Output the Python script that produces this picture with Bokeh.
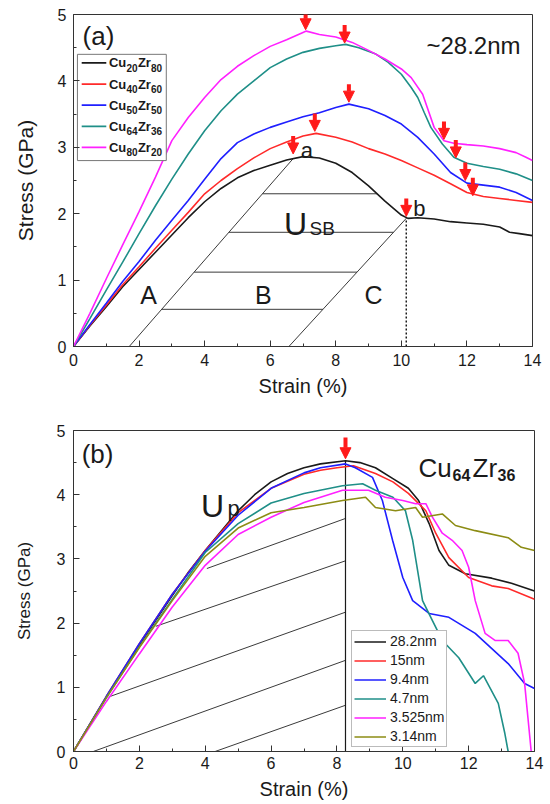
import numpy as np
from bokeh.plotting import figure
from bokeh.layouts import column
from bokeh.core.properties import value
from bokeh.models import (Range1d, FixedTicker, Legend, LegendItem, Label,
                          Arrow, NormalHead, ColumnDataSource)
from bokeh.embed import file_html
from bokeh.resources import INLINE

FONT = "Liberation Sans"
RED = "#ff1a1a"

# ---------------- panel (a) data: ~28.2 nm, different compositions ----------------
a_cu = ["20", "40", "50", "64", "80"]
a_zr = ["80", "60", "50", "36", "20"]
a_colors = ["#1a1a1a", "#ff2a2a", "#1f1fff", "#1f8f88", "#ff20ff"]

cu20_strain = [0, 0.5, 1, 1.5, 2, 2.5, 3, 3.5, 4, 4.5, 5, 5.5, 6, 6.5, 7, 7.5, 8, 8.5, 9,
               9.5, 10, 10.2, 10.5, 11, 11.5, 12, 12.5, 13, 13.3, 13.6, 14]
cu20_stress = [0, 0.31, 0.6, 0.9, 1.16, 1.42, 1.68, 1.94, 2.18, 2.38, 2.54, 2.65, 2.73, 2.81,
               2.86, 2.84, 2.76, 2.62, 2.42, 2.19, 1.98, 1.93, 1.94, 1.92, 1.88, 1.86, 1.84,
               1.8, 1.72, 1.7, 1.67]

cu40_strain = [0, 0.5, 1, 1.5, 2, 2.5, 3, 3.5, 4, 4.5, 5, 5.5, 6, 6.5, 7, 7.4, 8, 8.5, 9,
               9.5, 10, 10.5, 11, 11.5, 12, 12.5, 13, 13.5, 14]
cu40_stress = [0, 0.32, 0.62, 0.93, 1.2, 1.48, 1.75, 2.02, 2.3, 2.5, 2.68, 2.84, 2.98, 3.08,
               3.17, 3.21, 3.15, 3.08, 2.98, 2.9, 2.8, 2.69, 2.58, 2.45, 2.32, 2.26, 2.23,
               2.2, 2.17]

cu50_strain = [0, 0.5, 1, 1.5, 2, 2.5, 3, 3.5, 4, 4.5, 5, 5.5, 6, 6.5, 7, 7.5, 8, 8.4, 9,
               9.5, 10, 10.5, 11, 11.5, 12, 12.5, 13, 13.5, 14]
cu50_stress = [0, 0.33, 0.65, 0.98, 1.28, 1.6, 1.9, 2.2, 2.52, 2.83, 3.07, 3.2, 3.3, 3.38,
               3.46, 3.52, 3.6, 3.65, 3.58, 3.48, 3.35, 3.15, 2.9, 2.62, 2.46, 2.43, 2.4,
               2.32, 2.2]

cu64_strain = [0, 0.5, 1, 1.5, 2, 2.5, 3, 3.5, 4, 4.5, 5, 5.5, 6, 6.5, 7, 7.5, 8, 8.3, 8.7,
               9.2, 9.6, 10, 10.3, 10.5, 10.7, 10.9, 11.25, 11.6, 12, 12.5, 13, 13.5, 14]
cu64_stress = [0, 0.42, 0.85, 1.27, 1.7, 2.12, 2.52, 2.9, 3.25, 3.55, 3.8, 4.0, 4.2, 4.33,
               4.43, 4.49, 4.53, 4.55, 4.5, 4.41, 4.28, 4.1, 3.9, 3.75, 3.52, 3.3, 3.05,
               2.85, 2.76, 2.71, 2.67, 2.6, 2.5]

cu80_strain = [0, 0.5, 1, 1.5, 2, 2.5, 3, 3.5, 4, 4.5, 5, 5.5, 6, 6.5, 7, 7.1, 7.5, 8, 8.5,
               9, 9.5, 10, 10.3, 10.65, 11, 11.3, 11.6, 12, 12.5, 13, 13.5, 13.8, 14]
cu80_stress = [0, 0.5, 1.02, 1.53, 2.03, 2.55, 3.1, 3.45, 3.75, 4.02, 4.22, 4.38, 4.52, 4.62,
               4.73, 4.75, 4.7, 4.66, 4.58, 4.46, 4.33, 4.18, 4.05, 3.8, 3.3, 3.1, 3.06,
               3.04, 3.02, 2.98, 2.92, 2.85, 2.8]

a_strains = [cu20_strain, cu40_strain, cu50_strain, cu64_strain, cu80_strain]
a_stresses = [cu20_stress, cu40_stress, cu50_stress, cu64_stress, cu80_stress]

# arrows (tip positions) in panel (a)
a_arrow_x = [6.7, 7.36, 8.4, 8.27, 7.08, 10.15, 11.3, 11.66, 11.95, 12.18]
a_arrow_y = [2.9, 3.24, 3.68, 4.57, 4.77, 1.96, 3.12, 2.84, 2.5, 2.27]
a_arrow_len = 0.27

# construction in panel (a): two parallel unloading lines, point a and point b
left_line_x = [1.7, 6.7]
left_line_y = [0.0, 2.83]
right_line_x = [6.57, 10.15]
right_line_y = [0.0, 1.93]
b_x, b_y = 10.15, 1.93
hatch_y = [0.56, 1.12, 1.72, 2.3]

# ---------------- panel (b) data: Cu64Zr36, different sizes ----------------
b_labels = ["28.2nm", "15nm", "9.4nm", "4.7nm", "3.525nm", "3.14nm"]
b_colors = ["#1a1a1a", "#ff2a2a", "#1f1fff", "#1f8f88", "#ff20ff", "#8c8c14"]

s282_strain = [0, 1, 2, 3, 3.5, 4, 5, 5.5, 6, 6.5, 7, 7.5, 8.26, 8.7, 9.17, 9.7, 10.17,
               10.48, 10.8, 11.1, 11.4, 11.9, 12.7, 13.3, 14]
s282_stress = [0, 0.85, 1.66, 2.43, 2.8, 3.13, 3.75, 4.0, 4.2, 4.33, 4.42, 4.48, 4.53, 4.5,
               4.42, 4.25, 4.1, 3.91, 3.55, 3.13, 2.9, 2.77, 2.7, 2.62, 2.5]

s15_strain = [0, 1, 2, 3, 4, 5, 6, 7, 7.5, 8, 8.5, 9.17, 9.7, 10.17, 10.7, 11, 11.4, 12,
              12.7, 13.2, 14]
s15_stress = [0, 0.86, 1.68, 2.45, 3.13, 3.72, 4.1, 4.32, 4.38, 4.42, 4.45, 4.33, 4.2, 4.02,
              3.75, 3.4, 3.02, 2.71, 2.58, 2.54, 2.37]

s94_strain = [0, 1, 2, 3, 4, 5, 6, 7, 7.5, 8.26, 8.56, 9.08, 9.38, 9.69, 10.0, 10.3, 10.8,
              11.4, 12.2, 13.2, 13.7, 14]
s94_stress = [0, 0.86, 1.68, 2.45, 3.12, 3.68, 4.1, 4.34, 4.42, 4.48, 4.42, 4.27, 3.91, 3.29,
              2.71, 2.35, 2.15, 2.09, 1.84, 1.37, 1.06, 0.98]

s47_strain = [0, 1, 2, 3, 4, 5, 6, 7, 8.17, 8.78, 9.17, 9.7, 10.08, 10.3, 10.6, 10.9, 11.2,
              11.7, 12.2, 12.45, 12.9, 13.1, 13.2]
s47_stress = [0, 0.84, 1.63, 2.37, 3.1, 3.55, 3.87, 4.02, 4.14, 4.17, 4.07, 3.96, 3.75, 3.29,
              2.35, 2.04, 1.73, 1.46, 1.06, 1.18, 0.75, 0.28, 0]

s3525_strain = [0, 1, 2, 3, 4, 5, 6, 7, 8.17, 8.96, 9.47, 10.0, 10.39, 10.7, 10.9, 11.2,
                11.5, 11.8, 12.0, 12.2, 12.5, 12.8, 13.2, 13.5, 13.7, 13.8, 13.9]
s3525_stress = [0, 0.78, 1.52, 2.25, 2.9, 3.38, 3.65, 3.88, 4.07, 4.07, 3.96, 3.91, 3.86,
                3.86, 3.65, 3.4, 3.29, 3.13, 2.87, 2.35, 1.84, 1.73, 1.73, 1.53, 1.06, 0.53, 0]

s314_strain = [0, 1, 2, 3, 4, 5, 6, 7, 8.17, 8.87, 9.17, 9.78, 10.39, 10.6, 11.2, 11.6,
               12.2, 13.2, 13.6, 14]
s314_stress = [0, 0.84, 1.62, 2.35, 3.04, 3.48, 3.72, 3.8, 3.91, 3.96, 3.8, 3.75, 3.8, 3.65,
               3.7, 3.52, 3.44, 3.33, 3.18, 3.13]

b_strains = [s282_strain, s15_strain, s94_strain, s47_strain, s3525_strain, s314_strain]
b_stresses = [s282_stress, s15_stress, s94_stress, s47_stress, s3525_stress, s314_stress]

# construction in panel (b)
peak_x, peak_y = 8.26, 4.53
slant_x0 = [4.3, 0.6, 1.07, 2.5, 4.05]
slant_y0 = [0.0, 0.0, 0.85, 1.95, 2.85]
slant_y1 = [0.72, 1.42, 2.17, 2.97, 3.63]
b_arrow_x = [peak_x]
b_arrow_y = [4.56]
b_arrow_len = 0.33

x_ticks = [0, 2, 4, 6, 8, 10, 12, 14]
x_minor = [1, 3, 5, 7, 9, 11, 13]
y_ticks = [0, 1, 2, 3, 4, 5]
y_minor = [0.5, 1.5, 2.5, 3.5, 4.5]


def make_fig(fw, fh, bl, br, bt, bb, ylab_size):
    p = figure(frame_width=fw, frame_height=fh, x_range=Range1d(0, 14), y_range=Range1d(0, 5),
               output_backend="svg", toolbar_location=None,
               min_border_left=bl, min_border_right=br, min_border_top=bt, min_border_bottom=bb)
    p.xgrid.visible = False
    p.ygrid.visible = False
    p.outline_line_color = "#333333"
    p.outline_line_width = 1
    p.background_fill_color = "white"
    p.border_fill_color = "white"
    p.xaxis.ticker = FixedTicker(ticks=x_ticks, minor_ticks=x_minor)
    p.yaxis.ticker = FixedTicker(ticks=y_ticks, minor_ticks=y_minor)
    for ax in (p.xaxis[0], p.yaxis[0]):
        ax.axis_line_color = "#333333"
        ax.major_tick_line_color = "#333333"
        ax.minor_tick_line_color = "#333333"
        ax.major_tick_in = 6
        ax.major_tick_out = 0
        ax.minor_tick_in = 3
        ax.minor_tick_out = 0
        ax.major_label_text_font = FONT
        ax.major_label_text_font_size = "16px"
        ax.major_label_text_color = "#1a1a1a"
        ax.axis_label_text_font = FONT
        ax.axis_label_text_font_style = "normal"
        ax.axis_label_text_color = "#1a1a1a"
    p.xaxis.axis_label = "Strain (%)"
    p.xaxis.axis_label_text_font_size = "20px"
    p.yaxis.axis_label = "Stress (GPa)"
    p.yaxis.axis_label_text_font_size = ylab_size
    return p


def add_label(p, x, y, text, size, align="center", baseline="middle", style="normal"):
    p.add_layout(Label(x=x, y=y, text=text, text_font=FONT, text_font_size=size,
                       text_align=align, text_baseline=baseline, text_font_style=style,
                       text_color="#1a1a1a"))


# ======================= panel (a) =======================
p1 = make_fig(459, 332, 72, 12, 14, 56, "21px")
p1.xaxis.major_label_standoff = 7
p1.xaxis.axis_label_standoff = 6
p1.yaxis.major_label_standoff = 7
p1.yaxis.axis_label_standoff = 18

# construction lines
p1.line(left_line_x, left_line_y, line_color="#3a3a3a", line_width=1)
p1.line(right_line_x, right_line_y, line_color="#3a3a3a", line_width=1)
sl_left = (left_line_y[1] - left_line_y[0]) / (left_line_x[1] - left_line_x[0])
sl_right = (right_line_y[1] - right_line_y[0]) / (right_line_x[1] - right_line_x[0])
desc = np.array(cu20_strain) >= 7.0
desc_x = np.array(cu20_strain)[desc][::-1]
desc_y = np.array(cu20_stress)[desc][::-1]
hx0, hx1 = [], []
for hy in hatch_y:
    hx0.append(left_line_x[0] + hy / sl_left)
    xr = right_line_x[0] + hy / sl_right
    if hy > right_line_y[1]:
        xr = float(np.interp(hy, desc_y, desc_x))
    hx1.append(xr)
p1.segment(x0=hx0, y0=hatch_y, x1=hx1, y1=hatch_y, line_color="#3a3a3a", line_width=1)
p1.line([b_x, b_x], [0, b_y], line_color="#1a1a1a", line_width=1.5, line_dash="2 2")

for xs, ys, col in zip(a_strains, a_stresses, a_colors):
    p1.line(xs, ys, line_color=col, line_width=1.6)

src_a = ColumnDataSource(dict(x=a_arrow_x, y1=a_arrow_y,
                              y0=[v + a_arrow_len for v in a_arrow_y]))
p1.add_layout(Arrow(end=NormalHead(size=11, fill_color=RED, line_color=RED),
                    source=src_a, x_start="x", y_start="y0", x_end="x", y_end="y1",
                    line_color=RED, line_width=4))

# hand-built legend for (a) so that the subscripts have the right size
n_a = len(a_cu)
row_top, row_step = 4.27, 0.318
row_y = [row_top - i * row_step for i in range(n_a)]
sub_y = [v - 0.07 for v in row_y]
p1.quad(left=0.12, right=2.83, bottom=2.80, top=4.40, fill_color="white",
        line_color="#777777", line_width=1)
p1.segment(x0=[0.25] * n_a, y0=row_y, x1=[1.0] * n_a, y1=row_y, line_color=a_colors,
           line_width=1.8)
txt = dict(text_font=value(FONT), text_font_style="bold", text_color="#1a1a1a",
           text_baseline="middle", text_align="left")
p1.text(x=[1.08] * n_a, y=row_y, text=["Cu"] * n_a, text_font_size=value("13px"), **txt)
p1.text(x=[1.08] * n_a, y=sub_y, text=a_cu, x_offset=17.5, text_font_size=value("10px"), **txt)
p1.text(x=[1.08] * n_a, y=row_y, text=["Zr"] * n_a, x_offset=29, text_font_size=value("13px"), **txt)
p1.text(x=[1.08] * n_a, y=sub_y, text=a_zr, x_offset=42, text_font_size=value("10px"), **txt)

add_label(p1, 0.76, 4.68, "(a)", "26px")
add_label(p1, 12.2, 4.53, "~28.2nm", "24px")
add_label(p1, 2.29, 0.77, "A", "25px")
add_label(p1, 5.79, 0.77, "B", "25px")
add_label(p1, 9.15, 0.77, "C", "25px")
add_label(p1, 7.12, 2.95, "a", "22px")
add_label(p1, 10.55, 2.08, "b", "22px")
add_label(p1, 6.77, 1.85, "U", "32px", baseline="alphabetic")
add_label(p1, 7.2, 1.78, "SB", "19px", align="left", baseline="alphabetic")

# ======================= panel (b) =======================
p2 = make_fig(461, 321, 73, 10, 28, 46, "17px")
p2.xaxis.major_label_standoff = 5
p2.xaxis.axis_label_standoff = 6
p2.yaxis.major_label_standoff = 8
p2.yaxis.axis_label_standoff = 20

p2.segment(x0=slant_x0, y0=slant_y0, x1=[peak_x] * len(slant_x0), y1=slant_y1,
           line_color="#3a3a3a", line_width=1)
p2.line([peak_x, peak_x], [0, peak_y], line_color="#1a1a1a", line_width=1.2)

b_items = []
for xs, ys, col, lab in zip(b_strains, b_stresses, b_colors, b_labels):
    r = p2.line(xs, ys, line_color=col, line_width=1.6)
    b_items.append(LegendItem(label=lab, renderers=[r]))

src_b = ColumnDataSource(dict(x=b_arrow_x, y1=b_arrow_y,
                              y0=[v + b_arrow_len for v in b_arrow_y]))
p2.add_layout(Arrow(end=NormalHead(size=11, fill_color=RED, line_color=RED),
                    source=src_b, x_start="x", y_start="y0", x_end="x", y_end="y1",
                    line_color=RED, line_width=4))

leg_b = Legend(items=b_items, location=(278, 4))
leg_b.label_text_font = FONT
leg_b.label_text_font_size = "14px"
leg_b.label_text_color = "#1a1a1a"
leg_b.glyph_width = 32
leg_b.glyph_height = 13
leg_b.label_height = 13
leg_b.spacing = 3
leg_b.padding = 2
leg_b.margin = 0
leg_b.label_standoff = 4
leg_b.border_line_color = "#777777"
leg_b.border_line_width = 1
leg_b.background_fill_alpha = 1.0
p2.add_layout(leg_b)

add_label(p2, 0.73, 4.64, "(b)", "26px")
add_label(p2, 4.22, 3.83, "U", "32px", baseline="alphabetic")
add_label(p2, 4.68, 3.79, "p", "22px", align="left", baseline="alphabetic")
add_label(p2, 10.48, 4.41, "Cu", "26px", align="left", baseline="alphabetic")
add_label(p2, 11.51, 4.31, "64", "16px", align="left", baseline="alphabetic", style="bold")
add_label(p2, 12.12, 4.41, "Zr", "26px", align="left", baseline="alphabetic")
add_label(p2, 12.88, 4.31, "36", "16px", align="left", baseline="alphabetic", style="bold")

layout = column(p1, p2)
open("out.html", "w").write(file_html(layout, INLINE))
